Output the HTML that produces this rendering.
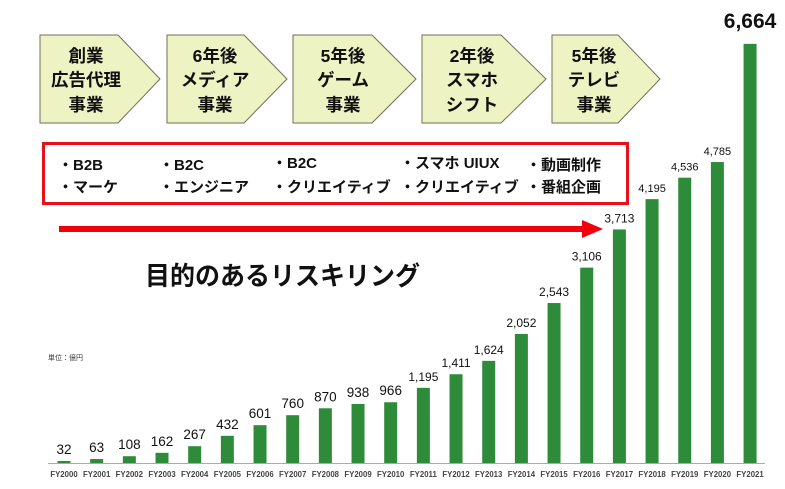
<!DOCTYPE html>
<html><head><meta charset="utf-8"><style>
html,body{margin:0;padding:0;background:#fff;}
svg{display:block;font-family:"Liberation Sans","Noto Sans CJK JP",sans-serif;}
</style></head><body>
<svg width="785" height="489" viewBox="0 0 785 489" xmlns="http://www.w3.org/2000/svg">
<g fill="#eef3c3" stroke="#6f6f5a" stroke-width="1">
<polygon points="40,35 118,35 160,79 118,123 40,123"/>
<polygon points="167,35 244,35 287,79 244,123 167,123"/>
<polygon points="293,35 372,35 416,79 372,123 293,123"/>
<polygon points="422,35 501,35 546,79 501,123 422,123"/>
<polygon points="552,35 618,35 660,79 618,123 552,123"/>
</g>
<g font-weight="bold" font-size="17.5" text-anchor="middle" fill="#111">
<text x="86" y="62">創業</text><text x="86" y="86">広告代理</text><text x="86" y="111">事業</text>
<text x="215" y="62">6年後</text><text x="215" y="86">メディア</text><text x="215" y="111">事業</text>
<text x="343" y="62">5年後</text><text x="343" y="86">ゲーム</text><text x="343" y="111">事業</text>
<text x="472" y="62">2年後</text><text x="472" y="86">スマホ</text><text x="472" y="111">シフト</text>
<text x="594" y="62">5年後</text><text x="594" y="86">テレビ</text><text x="594" y="111">事業</text>
</g>
<rect x="43.5" y="143.5" width="584" height="60" fill="#fff" stroke="#e8111a" stroke-width="3"/>
<g font-weight="bold" font-size="15" fill="#111">
<text x="58" y="170">・B2B</text><text x="58" y="192">・マーケ</text>
<text x="159" y="170">・B2C</text><text x="159" y="192">・エンジニア</text>
<text x="272" y="168">・B2C</text><text x="272" y="192">・クリエイティブ</text>
<text x="400" y="168">・スマホ UIUX</text><text x="400" y="192">・クリエイティブ</text>
<text x="526" y="170">・動画制作</text><text x="526" y="192">・番組企画</text>
</g>
<rect x="59" y="226" width="526" height="6" fill="#f0000a"/>
<polygon points="582,220 603,229 582,238" fill="#f0000a"/>
<text x="145" y="285" font-size="26" font-weight="bold" fill="#111" textLength="275" lengthAdjust="spacingAndGlyphs">目的のあるリスキリング</text>
<text x="48" y="360" font-size="7" fill="#333">単位：億円</text>
<line x1="48" y1="463.5" x2="765" y2="463.5" stroke="#aaa" stroke-width="1"/>
<g id="bars"></g>
<script>
const v=[32,63,108,162,267,432,601,760,870,938,966,1195,1411,1624,2052,2543,3106,3713,4195,4536,4785,6664];
const g=document.getElementById('bars');const ns='http://www.w3.org/2000/svg';
v.forEach((d,i)=>{const cx=64+i*32.67;const h=d*0.0629;const top=463-h;
const r=document.createElementNS(ns,'rect');r.setAttribute('x',cx-6.5);r.setAttribute('y',top);r.setAttribute('width',13);r.setAttribute('height',h);r.setAttribute('fill','#2e8b3a');g.appendChild(r);
const t=document.createElementNS(ns,'text');t.setAttribute('x',cx);t.setAttribute('text-anchor','middle');
let fs=i<11?13.5:(i<18?12:11);let lbl=d.toLocaleString('en-US');
if(i==21){fs=21;t.setAttribute('font-weight','bold');t.setAttribute('y',top-16);}else t.setAttribute('y',top-7);
t.setAttribute('font-size',fs);t.setAttribute('fill','#111');t.textContent=lbl;g.appendChild(t);
const x=document.createElementNS(ns,'text');x.setAttribute('x',cx);x.setAttribute('y',477);x.setAttribute('text-anchor','middle');x.setAttribute('font-size','7.8');x.setAttribute('font-weight','bold');x.setAttribute('fill','#444');x.textContent='FY'+(2000+i);g.appendChild(x);});
</script>
</svg>
</body></html>
